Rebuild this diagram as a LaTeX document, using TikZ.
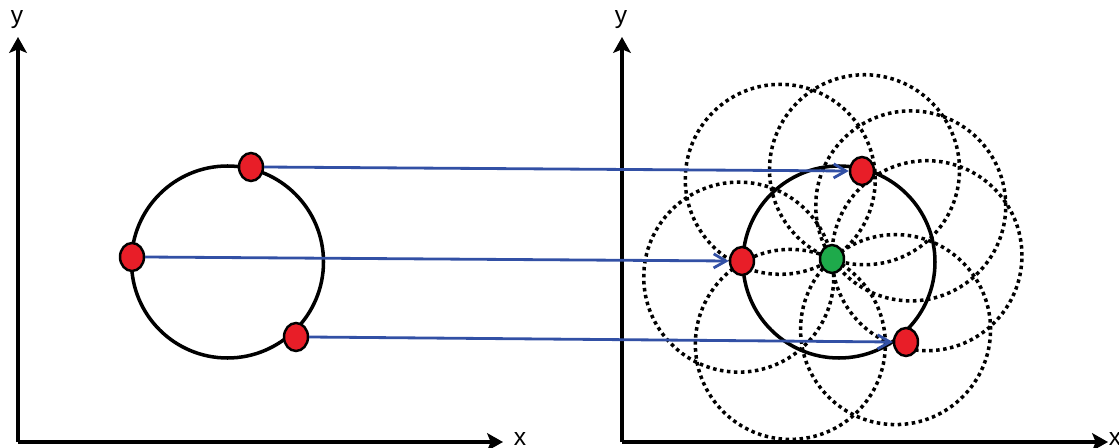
\documentclass[tikz,border=0pt]{standalone}
\usepackage{fontspec}
\setmainfont{Liberation Sans}
\usetikzlibrary{arrows.meta,shapes.geometric}
\definecolor{ptred}{RGB}{232,30,40}
\definecolor{ptgreen}{RGB}{30,170,75}
\definecolor{arrblue}{RGB}{50,80,165}

\begin{document}
\begin{tikzpicture}[line width=1.0pt,>=Stealth,
  axis/.style={line width=1.0pt,-{Stealth[length=4.5pt,width=5pt,inset=1pt]}},
  lbl/.style={font=\fontsize{7}{8}\selectfont,inner sep=0pt},
  ptdot/.style={ellipse,draw,line width=0.7pt,minimum width=0.24cm,minimum height=0.28cm,inner sep=0pt},
  reddot/.style={ptdot,fill=ptred},
  greendot/.style={ptdot,fill=ptgreen},
  maparrow/.style={arrblue,line width=0.8pt,-{Straight Barb[length=3.5pt,width=4pt]}},
  dotcirc/.style={line width=1.0pt,dash pattern=on 1.0pt off 1.0pt}]
\useasboundingbox (0,0) rectangle (11.19,4.47);
% 坐标轴（左）
\coordinate (oL) at (0.18,0.05);
\coordinate (yL) at (0.18,4.10);
\coordinate (xL) at (5.03,0.05);
\draw[axis] (oL) -- (yL);
\draw[axis] (oL) -- (xL);
\node[lbl] (yLabL) at (0.17,4.27) {y};
\node[lbl] (xLabL) at (5.20,0.08) {x};
% 坐标轴（右）
\coordinate (oR) at (6.22,0.05);
\coordinate (yR) at (6.22,4.10);
\coordinate (xR) at (11.08,0.05);
\draw[axis] (oR) -- (yR);
\draw[axis] (oR) -- (xR);
\node[lbl] (yLabR) at (6.21,4.27) {y};
\node[lbl] (xLabR) at (11.15,0.08) {x};
% 虚线圆（过圆心）
\coordinate (g0) at (8.32,1.88);
\foreach \a in {2,34,70,123,191,-116,-48}
  \draw[dotcirc] (g0) ++(\a:0.95) circle (0.95);
% 图像空间的圆
\draw (2.275,1.85) circle (0.96);
% 参数空间的圆
\draw (8.39,1.85) circle (0.96);
% 边缘点
\node[reddot] (pA) at (2.51,2.80) {};
\node[reddot] (pB) at (1.32,1.90) {};
\node[reddot] (pC) at (2.96,1.10) {};
\node[reddot] (qA) at (8.62,2.76) {};
\node[reddot] (qB) at (7.42,1.86) {};
\node[reddot] (qC) at (9.06,1.05) {};
% 圆心
\node[greendot] (g) at (g0) {};
% 映射箭头
\draw[maparrow] (pA.east) -- (qA.west);
\draw[maparrow] (pB.east) -- (qB.west);
\draw[maparrow] (pC.east) -- (qC.west);
\end{tikzpicture}
\end{document}
